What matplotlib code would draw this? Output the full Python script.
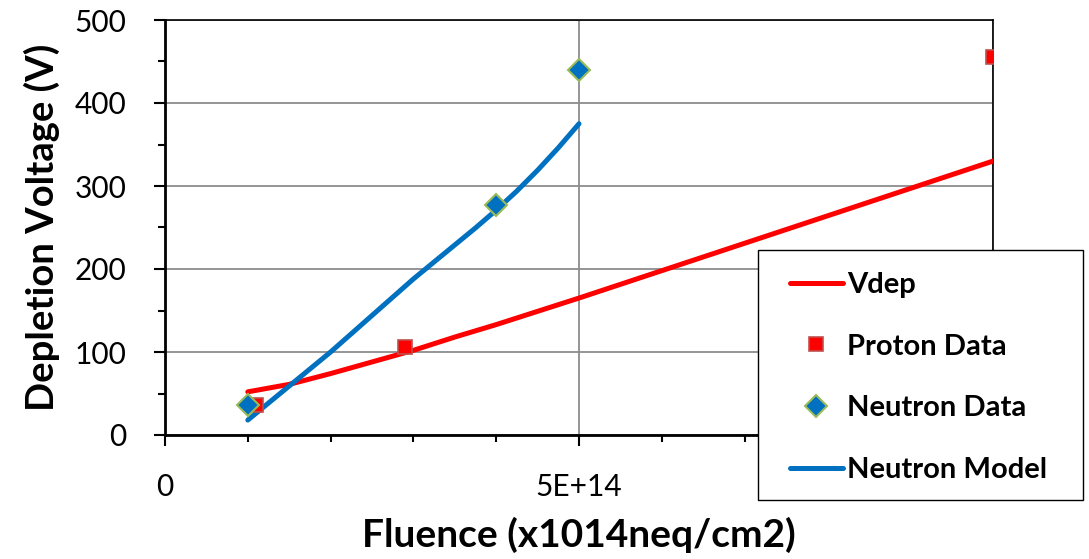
import matplotlib.pyplot as plt
from matplotlib.patches import Rectangle
from matplotlib.ticker import MultipleLocator, FixedLocator

plt.rcParams['font.family'] = ['Lato', 'DejaVu Sans']

# fluence in neq/cm2, voltage in V
vdep_x = [1.0e14, 1.5e14, 2.0e14, 2.5e14, 3.0e14, 3.5e14, 4.0e14, 4.5e14,
          5.0e14, 6.0e14, 7.0e14, 8.0e14, 9.0e14, 1.0e15]
vdep_y = [52, 61, 74, 88, 102, 118, 133, 149, 165, 198, 231, 264, 297, 330]

proton_x = [1.1e14, 2.9e14, 1.0e15]
proton_y = [36, 106, 455]

neutron_x = [1.0e14, 4.0e14, 5.0e14]
neutron_y = [36, 277, 440]

model_x = [1.0e14, 1.5e14, 2.0e14, 2.5e14, 3.0e14, 3.5e14, 3.75e14, 4.0e14,
           4.25e14, 4.5e14, 4.75e14, 5.0e14]
model_y = [18, 59, 100, 144, 188, 229, 249.5, 271, 294, 319, 346, 375]

x_ticks = [0, 5e14, 1e15]
x_ticklabels = ['0', '5E+14', '']

W, H = 1089, 559
fig = plt.figure(figsize=(W / 100, H / 100), dpi=100)
ax = fig.add_axes([165 / W, 1 - 435 / H, 828 / W, 415 / H])

ax.plot(vdep_x, vdep_y, color='#ff0000', lw=3.6, solid_capstyle='round',
        label='Vdep', zorder=3)
ax.plot(proton_x, proton_y, ls='none', marker='s', ms=10.5, mfc='#ff0000',
        mec='#c0504d', mew=1.2, label='Proton Data', zorder=4)
ax.plot(neutron_x, neutron_y, ls='none', marker='D', ms=11, mfc='#0070c0',
        mec='#9bbb59', mew=1.5, label='Neutron Data', zorder=5)
ax.plot(model_x, model_y, color='#0070c0', lw=3.6, solid_capstyle='round',
        label='Neutron Model', zorder=3)

ax.set_xlim(0, 1e15)
ax.set_ylim(0, 500)
ax.xaxis.set_major_locator(FixedLocator(x_ticks))
ax.set_xticklabels(x_ticklabels)
ax.xaxis.set_minor_locator(MultipleLocator(1e14))
ax.yaxis.set_major_locator(MultipleLocator(100))
ax.yaxis.set_minor_locator(MultipleLocator(50))

ax.grid(True, which='major', color='#8c8c8c', lw=1.3, zorder=0)
ax.set_axisbelow(True)
for s in ax.spines.values():
    s.set_color('black')
    s.set_linewidth(1.2)
ax.spines['left'].set_linewidth(2)
ax.spines['bottom'].set_linewidth(2)

ax.tick_params(axis='both', which='major', direction='out', length=8,
               width=1.5, labelsize=21.5)
ax.tick_params(axis='both', which='minor', direction='out', length=5, width=1.5)
ax.tick_params(axis='y', which='major', pad=20)
ax.tick_params(axis='x', which='major', pad=19)

ax.set_xlabel('Fluence (x1014neq/cm2)', fontsize=28, fontweight='bold', labelpad=12)
ax.set_ylabel('Depletion Voltage (V)', fontsize=27.5, fontweight='bold', labelpad=10)

# legend box sits on top of the plot and overhangs the right edge
box = Rectangle((758 / W, 1 - 500 / H), 325 / W, 250 / H,
                transform=fig.transFigure, facecolor='white',
                edgecolor='black', lw=1.0, zorder=5)
fig.add_artist(box)

handles, labels = ax.get_legend_handles_labels()
leg = fig.legend(handles, labels, loc='upper left',
                 bbox_to_anchor=(790 / W, 1 - 272 / H),
                 prop={'weight': 'bold', 'size': 21}, frameon=False,
                 borderpad=0, borderaxespad=0, labelspacing=1.22,
                 handlelength=1.8, handletextpad=0.17)
leg.set_zorder(6)

fig.savefig('out.png', dpi=100)
